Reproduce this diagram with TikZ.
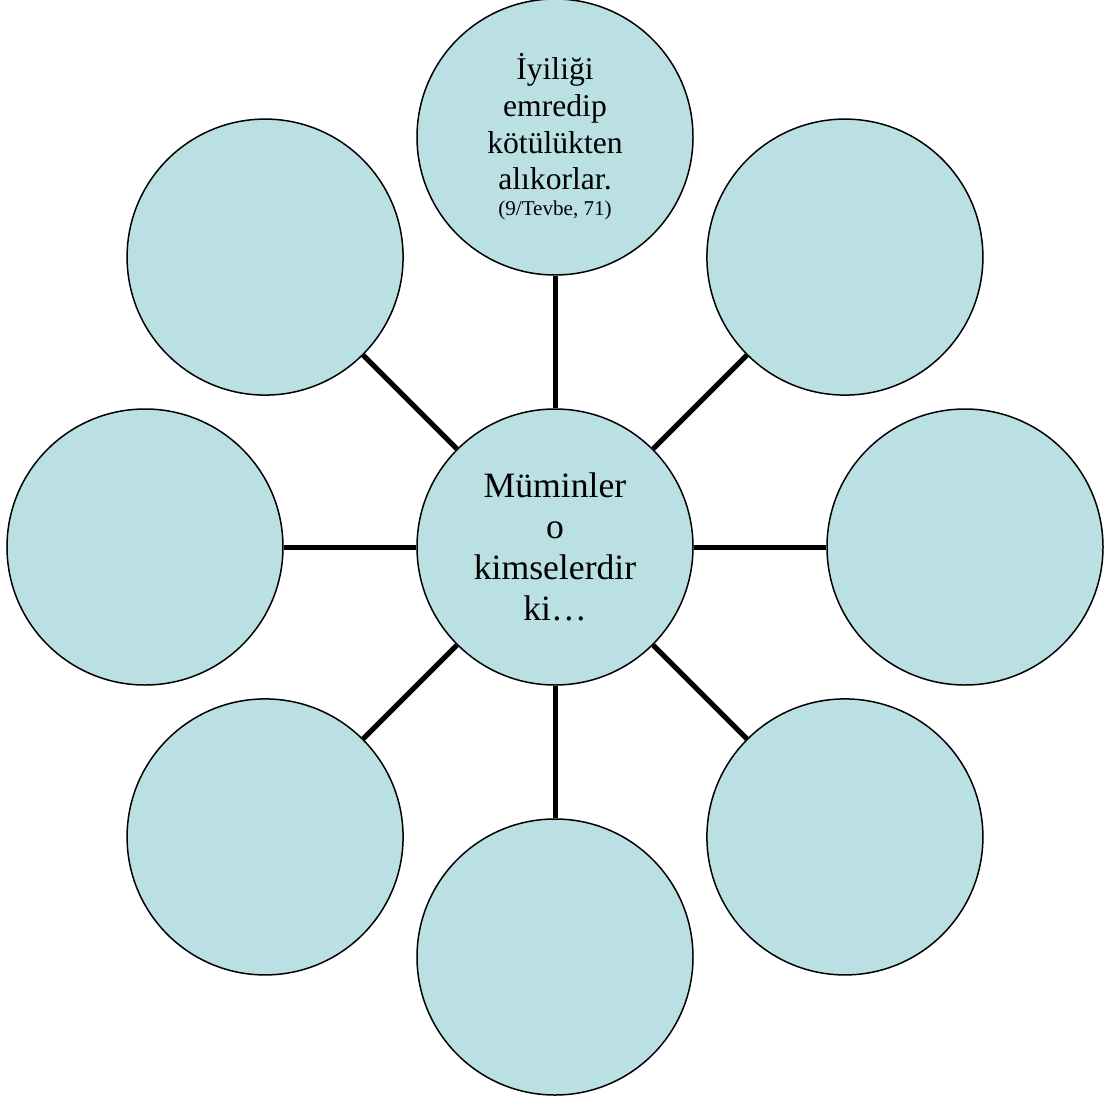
\documentclass[tikz,border=0pt]{standalone}
\usepackage{fontspec}
\setmainfont{Liberation Serif}
\usetikzlibrary{positioning}
\definecolor{bubblefill}{HTML}{BBE0E3}

\begin{document}
\begin{tikzpicture}[
        bubble/.style={
            circle,
            draw=black,
            line width=0.85pt,
            fill=bubblefill,
            minimum size=5.52cm,
            inner sep=0pt,
            align=center
        },
        hubbubble/.style={
            bubble,
            font=\fontsize{20.3}{23.3}\selectfont
        },
        versebubble/.style={
            bubble,
            font=\fontsize{18}{20.9}\selectfont
        },
        spoke/.style={
            line width=2.85pt,
            black
        }
    ]

        \useasboundingbox (-11.1,-11.08) rectangle (11.08,10.94);

        % ---------------------------------------------------------------------
        % Hub in the middle
        % ---------------------------------------------------------------------

        \node[hubbubble] (hub) at (0,0) {Müminler\\o\\kimselerdir\\ki…};

        % ---------------------------------------------------------------------
        % Ring of bubbles round the hub
        % ---------------------------------------------------------------------

        \node[versebubble] (north) at (90:8.2)
            {İyiliği\\emredip\\kötülükten\\alıkorlar.\\[-6pt]
             {\fontsize{12}{13}\selectfont (9/Tevbe, 71)}};

        \node[bubble] (northeast) at (45:8.2) {};
        \node[bubble] (east) at (0:8.2) {};
        \node[bubble] (southeast) at (-45:8.2) {};
        \node[bubble] (south) at (-90:8.2) {};
        \node[bubble] (southwest) at (-135:8.2) {};
        \node[bubble] (west) at (180:8.2) {};
        \node[bubble] (northwest) at (135:8.2) {};

        % ---------------------------------------------------------------------
        % Spokes from the hub
        % ---------------------------------------------------------------------

        \draw[spoke] (hub) -- (north);
        \draw[spoke] (hub) -- (northeast);
        \draw[spoke] (hub) -- (east);
        \draw[spoke] (hub) -- (southeast);
        \draw[spoke] (hub) -- (south);
        \draw[spoke] (hub) -- (southwest);
        \draw[spoke] (hub) -- (west);
        \draw[spoke] (hub) -- (northwest);

    \end{tikzpicture}
\end{document}
